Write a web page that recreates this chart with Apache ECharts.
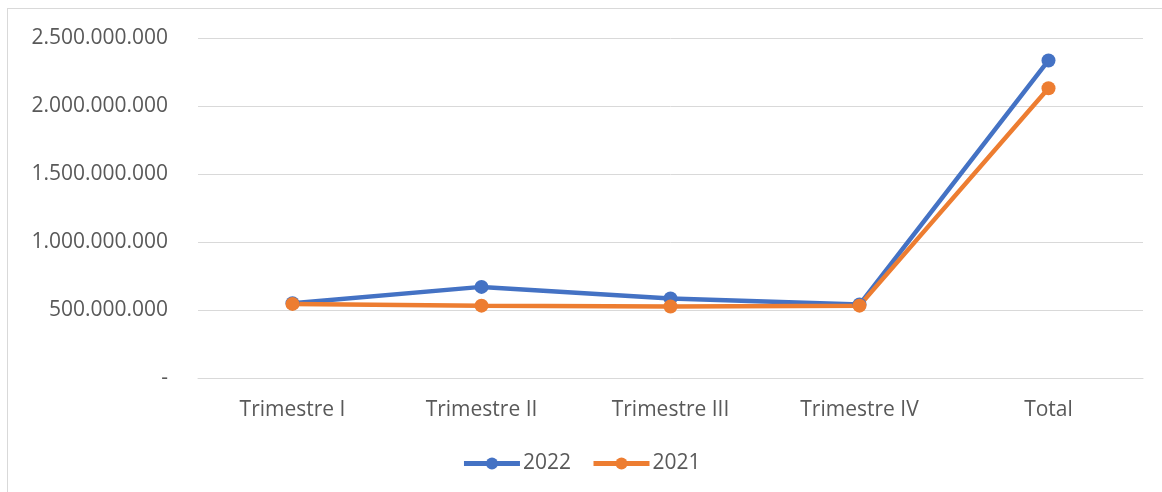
<!DOCTYPE html>
<html>
<head>
<meta charset="utf-8">
<script src="https://cdn.jsdelivr.net/npm/echarts@6/dist/echarts.min.js"></script>
<style>
  html, body { margin: 0; padding: 0; background: #fff; }
  .frame { position: absolute; left: 7px; top: 8px; width: 1170px; height: 500px; border: 1px solid #d9d9d9; box-sizing: border-box; }
  #chart { position: absolute; left: 0; top: 0; width: 1162px; height: 492px; }
</style>
</head>
<body>
<div class="frame"></div>
<div id="chart"></div>
<script>
const categories = ['Trimestre I', 'Trimestre II', 'Trimestre III', 'Trimestre IV', 'Total'];
const values2022 = [550000000, 670000000, 585000000, 540000000, 2335000000];
const values2021 = [545000000, 532000000, 526000000, 532000000, 2130000000];
const yTicks = [0, 500000000, 1000000000, 1500000000, 2000000000, 2500000000];

const chart = echarts.init(document.getElementById('chart'));

// formato 2.500.000.000, cero como "-"
const fmt = (v) => v === 0 ? '-' : String(v).replace(/\B(?=(\d{3})+(?!\d))/g, '.');

const lineSeries = (name, data, color) => ({
  name: name,
  type: 'line',
  data: data,
  symbol: 'circle',
  symbolSize: 14,
  lineStyle: { width: 4.5, color: color },
  itemStyle: { color: color },
  emphasis: { disabled: true }
});

chart.setOption({
  animation: false,
  textStyle: { fontFamily: 'Open Sans' },
  grid: { left: 198, right: 19, top: 38, bottom: 114 },
  legend: {
    bottom: 13,
    left: 'center',
    itemWidth: 56,
    itemHeight: 15,
    itemGap: 20,
    lineStyle: { width: 5 },
    textStyle: { fontSize: 21, color: '#595959', fontFamily: 'Open Sans', padding: [0, 0, 0, -2] },
    data: ['2022', '2021']
  },
  xAxis: {
    type: 'category',
    data: categories,
    boundaryGap: true,
    axisLine: { lineStyle: { color: '#d9d9d9', width: 1 } },
    axisTick: { show: false },
    axisLabel: { fontSize: 21, color: '#595959', margin: 22 }
  },
  yAxis: {
    type: 'value',
    min: yTicks[0],
    max: yTicks[yTicks.length - 1],
    interval: yTicks[1] - yTicks[0],
    axisLine: { show: false },
    axisTick: { show: false },
    splitLine: { lineStyle: { color: '#d9d9d9', width: 1 } },
    axisLabel: { fontSize: 21, color: '#595959', margin: 30, formatter: fmt }
  },
  series: [
    lineSeries('2022', values2022, '#4472c4'),
    lineSeries('2021', values2021, '#ed7d31')
  ]
});
</script>
</body>
</html>
